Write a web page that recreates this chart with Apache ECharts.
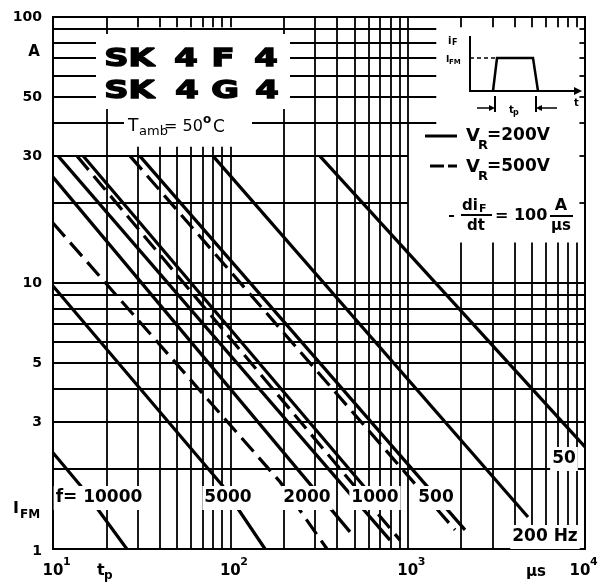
<!DOCTYPE html>
<html><head><meta charset="utf-8">
<script src="https://cdn.jsdelivr.net/npm/echarts@6/dist/echarts.min.js"></script>
<style>html,body{margin:0;padding:0;background:#fff}#c{width:604px;height:584px}</style>
</head><body><div id="c"></div>
<script>
// ---- data (t_p in µs, I_FM in A) ----
const xTickValues = [10, 100, 1000, 10000];
const xTickExponents = ['1', '2', '3', '4'];
const yTickValues = [100, 50, 30, 10, 5, 3, 1];
const yTickLabels = ['100', '50', '30', '10', '5', '3', '1'];

// solid: V_R = 200 V, dashed: V_R = 500 V
const solid50Hz = [[320, 30], [10000, 2.42]];
const solid200Hz = [[80, 30], [4770, 1.32]];
const solid500Hz = [[30.9, 30], [2105, 1.18]];
const dashed500Hz = [[27.2, 30], [1849, 1.18]];
const solid1000Hz = [[14.8, 30], [698, 1.46]];
const dashed1000Hz = [[13.65, 30], [905, 1.08]];
const solid1000HzB = [[10.7, 30], [795, 1.08]];
const solid2000Hz = [[10, 25.0], [473, 1.16]];
const dashed2000Hz = [[10, 16.8], [190.6, 1.79], [351, 1]];
const solid5000Hz = [[10, 9.74], [89.7, 1.74], [157, 1]];
const solid10000Hz = [[10, 2.3], [14.2, 1.74], [26.1, 1]];

// grid line values
const hLinesFull = [2, 3, 4, 5, 6, 7, 8, 9, 10];
const hLinesMid = [20, 30];
const hLinesTop = [40, 50, 60, 70, 80, 90];
const hTicksRight = [20, 30, 40, 50, 60, 70, 80, 90];
const vLinesFull = [20, 200, 300, 400, 500, 600, 700, 800, 900, 1000];
const vLinesLeft = [30, 40, 50, 60, 70, 80, 90, 100];
const vLinesRight = [2000, 3000, 4000, 5000, 6000, 7000, 8000, 9000];

const solidSeries = [solid50Hz, solid200Hz, solid500Hz, solid1000Hz, solid1000HzB, solid2000Hz, solid5000Hz, solid10000Hz];
const dashedSeries = [dashed500Hz, dashed1000Hz, dashed2000Hz];

function seg(x1, y1, x2, y2) { return { coords: [[x1, y1], [x2, y2]] }; }
const gridSegs = [];
hLinesFull.forEach(v => gridSegs.push(seg(10, v, 10000, v)));
hLinesMid.forEach(v => gridSegs.push(seg(10, v, 1000, v)));
hLinesTop.forEach(v => gridSegs.push(seg(10, v, 1450, v)));
hTicksRight.forEach(v => gridSegs.push(seg(9300, v, 10000, v)));
vLinesFull.forEach(t => gridSegs.push(seg(t, 1, t, 100)));
vLinesLeft.forEach(t => { gridSegs.push(seg(t, 1, t, 32.5)); gridSegs.push(seg(t, 91.5, t, 100)); });
vLinesRight.forEach(t => { gridSegs.push(seg(t, 1, t, 14.2)); gridSegs.push(seg(t, 91.5, t, 100)); });

const series = [{
  type: 'lines', coordinateSystem: 'cartesian2d', polyline: false, silent: true, z: 1,
  data: gridSegs, lineStyle: { color: '#000', width: 1.8, opacity: 1 }, animation: false
}];
solidSeries.forEach(d => series.push({ type: 'line', data: d, showSymbol: false, symbol: 'none', silent: true, z: 3,
  lineStyle: { color: '#000', width: 3.2, cap: 'butt', join: 'round' } }));
dashedSeries.forEach(d => series.push({ type: 'line', data: d, showSymbol: false, symbol: 'none', silent: true, z: 3,
  lineStyle: { color: '#000', width: 3.2, type: [18, 8], cap: 'butt' } }));

const chart = echarts.init(document.getElementById('c'));
chart.setOption({
  animation: false,
  backgroundColor: '#fff',
  grid: { left: 53, right: 19, top: 17, bottom: 35, show: true, borderColor: '#000', borderWidth: 2, backgroundColor: 'transparent' },
  xAxis: { type: 'log', logBase: 10, min: 10, max: 10000, axisLine: { show: false }, axisTick: { show: false }, axisLabel: { show: false }, splitLine: { show: false } },
  yAxis: { type: 'log', logBase: 10, min: 1, max: 100, axisLine: { show: false }, axisTick: { show: false }, axisLabel: { show: false }, splitLine: { show: false } },
  series: series
});

const P = (t, i) => chart.convertToPixel({ gridIndex: 0 }, [t, i]);
const FF = 'DejaVu Sans';
function T(text, x, y, size, o) {
  o = o || {};
  return { type: 'text', x: x, y: y, z: o.z || 200, scaleX: o.sx || 1, silent: true,
    style: { text: text, fontSize: size, fontWeight: o.w || 'bold', fontFamily: o.f || FF, fill: '#000',
      textAlign: o.a || 'left', align: o.a || 'left', textVerticalAlign: o.v || 'middle', verticalAlign: o.v || 'middle',
      backgroundColor: o.bg, padding: o.pad, stroke: o.stroke, lineWidth: o.lw } };
}
function L(x1, y1, x2, y2, w, dash) {
  return { type: 'line', z: 200, silent: true, shape: { x1: x1, y1: y1, x2: x2, y2: y2 },
    style: { stroke: '#000', lineWidth: w || 2, lineDash: dash || null } };
}
function R(x, y, w, h) { return { type: 'rect', z: 150, silent: true, shape: { x: x, y: y, width: w, height: h }, style: { fill: '#fff' } }; }
function Poly(pts, fill) { return { type: fill ? 'polygon' : 'polyline', z: 200, silent: true, shape: { points: pts },
  style: fill ? { fill: '#000' } : { stroke: '#000', lineWidth: 2.5, fill: null } }; }

const g = [];
// y tick labels
yTickValues.forEach((v, k) => { const p = P(10, v); g.push(T(yTickLabels[k], 42, p[1] + (v === 1 ? 2 : 0), 14, { a: 'right' })); });
g.push(T('A', 34, 52, 15, { a: 'center' }));
g.push(T('I', 13, 509, 16));
g.push(T('FM', 20, 515, 12));
// x tick labels
xTickValues.forEach((v, k) => {
  const p = P(v, 1);
  const cx = p[0] - (v === 10000 ? 5 : 0);
  g.push(T('10', cx, 571, 15, { a: 'center' }));
  g.push(T(xTickExponents[k], cx + 10, 562, 11));
});
g.push(T('t', 97, 571, 16));
g.push(T('p', 104, 576, 12));
g.push(T('µs', 526, 572, 15));

// title
g.push(R(96, 34, 194, 75));
[['SK', 129.5], ['4', 186], ['F', 223], ['4', 266]].forEach(a => g.push(T(a[0], a[1], 59, 25, { a: 'center', sx: 1.35, stroke: '#000', lw: 1.4 })));
[['SK', 129.5], ['4', 187], ['G', 225], ['4', 267]].forEach(a => g.push(T(a[0], a[1], 91, 25, { a: 'center', sx: 1.35, stroke: '#000', lw: 1.4 })));
// T_amb
g.push(R(124, 116, 128, 22));
g.push(T('T', 128, 127, 17, { w: 'normal' }));
g.push(T('amb', 139, 132, 13, { w: 'normal' }));
g.push(T('= 50', 164, 127, 16, { w: 'normal' }));
g.push(T('o', 203, 120, 12, { w: 'bold' }));
g.push(T('C', 213, 128, 17, { w: 'normal' }));

// inset
g.push(L(470, 36, 470, 92, 2));
g.push(L(469, 91, 575, 91, 2));
g.push(Poly([[574, 87], [582, 91], [574, 95]], true));
g.push(Poly([[493, 91], [497, 58], [533, 58], [538, 91]]));
g.push(L(470, 58, 495, 58, 1.5, [4, 3]));
g.push(L(495, 96, 495, 112, 2));
g.push(L(536, 96, 536, 112, 2));
g.push(L(477, 108, 490, 108, 1.5));
g.push(Poly([[489, 105], [495, 108], [489, 111]], true));
g.push(L(541, 108, 557, 108, 1.5));
g.push(Poly([[542, 105], [536, 108], [542, 111]], true));
g.push(T('i', 448, 41, 10, { w: 'bold' }));
g.push(T('F', 452, 43, 8, { w: 'bold' }));
g.push(T('I', 446, 60, 9, { w: 'bold' }));
g.push(T('FM', 449, 62, 7, { w: 'bold' }));
g.push(T('t', 574, 103, 10, { w: 'bold' }));
g.push(T('t', 509, 110, 10, { w: 'bold' }));
g.push(T('p', 513, 113, 8, { w: 'bold' }));

// legend
g.push(L(425, 136, 457, 136, 3));
g.push(T('V', 466, 136, 18));
g.push(T('R', 478, 146, 13));
g.push(T('=200V', 487, 136, 17));
g.push(L(430, 166, 444, 166, 3));
g.push(L(448, 166, 457, 166, 3));
g.push(T('V', 466, 167, 18));
g.push(T('R', 478, 177, 13));
g.push(T('=500V', 487, 167, 17));
g.push(L(449, 216, 454, 216, 2));
g.push(T('di', 462, 206, 15));
g.push(T('F', 479, 209, 11));
g.push(L(461, 215, 492, 215, 2));
g.push(T('dt', 467, 226, 15));
g.push(T('= 100', 495, 216, 16));
g.push(T('A', 561, 206, 16, { a: 'center' }));
g.push(L(550, 216, 573, 216, 2));
g.push(T('µs', 561, 226, 15, { a: 'center' }));

// frequency labels
const fl = { bg: '#fff', pad: [4, 2, 3, 2], a: 'center' };
g.push(T('f= 10000', 99, 498, 17, fl));
g.push(T('5000', 228, 498, 17, fl));
g.push(T('2000', 307, 498, 17, fl));
g.push(T('1000', 375, 498, 17, fl));
g.push(T('500', 436, 498, 17, fl));
g.push(T('50', 564, 459, 17, fl));
g.push(T('200 Hz', 545, 537, 17, fl));

chart.setOption({ graphic: { elements: g } });
</script></body></html>
